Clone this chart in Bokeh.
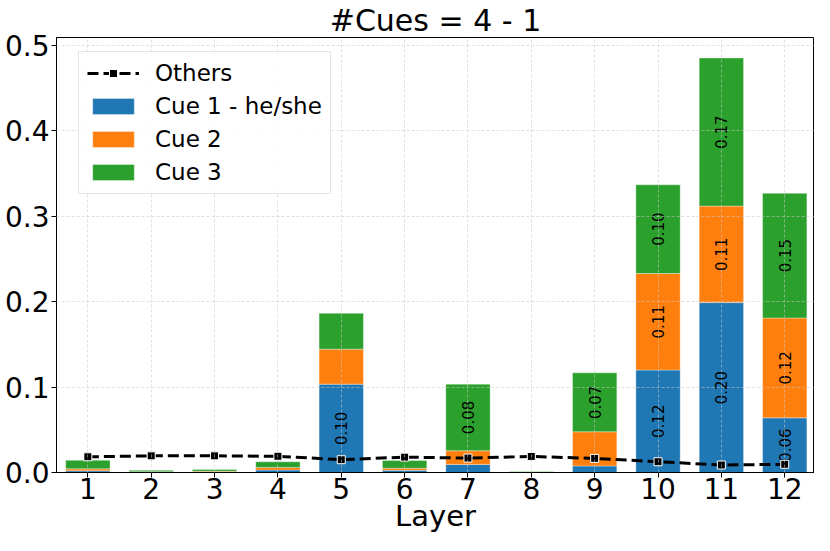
import numpy as np
from bokeh.plotting import figure
from bokeh.models import (ColumnDataSource, Range1d, FixedTicker, NumeralTickFormatter,
                          Legend, LegendItem)
from bokeh.core.properties import value
from bokeh.embed import file_html
from bokeh.resources import INLINE

# ---- data ----
layers = [1, 2, 3, 4, 5, 6, 7, 8, 9, 10, 11, 12]
cue1 = [0.002, 0.0005, 0.0005, 0.003, 0.1035, 0.0025, 0.0095, 0.0003, 0.0077, 0.120, 0.199, 0.064]
cue2 = [0.0023, 0.0005, 0.001, 0.003, 0.041, 0.0025, 0.016, 0.0003, 0.040, 0.113, 0.113, 0.117]
cue3 = [0.010, 0.0015, 0.002, 0.0065, 0.042, 0.009, 0.078, 0.0006, 0.069, 0.104, 0.1735, 0.146]
others = [0.0184, 0.0195, 0.0195, 0.019, 0.015, 0.018, 0.0169, 0.0188, 0.0165, 0.0126, 0.0088, 0.0096]
series_names = ["Cue 1 - he/she", "Cue 2", "Cue 3"]
y_ticks = [0.0, 0.1, 0.2, 0.3, 0.4, 0.5]
title_text = "#Cues = 4 - 1"
label_threshold = 0.05

colors = ["#1f77b4", "#ff7f0e", "#2ca02c"]
FONT = "DejaVu Sans"

src = ColumnDataSource(dict(layer=layers, cue1=cue1, cue2=cue2, cue3=cue3, others=others))

p = figure(width=814, height=535, output_backend="svg", toolbar_location=None,
           x_range=Range1d(0.505, 12.47), y_range=Range1d(0, 0.5095),
           min_border_left=56, min_border_right=0, min_border_top=0, min_border_bottom=0)
p.background_fill_color = "white"
p.border_fill_color = "white"
p.outline_line_color = "black"
p.outline_line_alpha = 1
p.outline_line_width = 1

bars = p.vbar_stack(["cue1", "cue2", "cue3"], x="layer", width=0.7, source=src,
                    color=colors, line_color="white", line_alpha=0.35, line_width=1)

# bar value labels
stack = np.vstack([cue1, cue2, cue3])
bottoms = np.vstack([np.zeros(len(layers)), np.cumsum(stack, axis=0)[:-1]])
mids = bottoms + stack / 2
lx, ly, lt = [], [], []
for i in range(stack.shape[0]):
    for j in range(stack.shape[1]):
        if stack[i, j] >= label_threshold:
            lx.append(layers[j]); ly.append(mids[i, j]); lt.append(f"{stack[i, j]:.2f}")
p.text(x=lx, y=ly, text=lt, angle=np.pi / 2, text_align="center", text_baseline="middle",
       text_font=value(FONT), text_font_size="15px", text_color="black")

line_r = p.line("layer", "others", source=src, line_color="black", line_width=3,
                line_dash="11 5")
pts_r = p.scatter("layer", "others", source=src, marker="square", size=8,
                  fill_color="black", line_color="white", line_width=1)

# grid
p.grid.grid_line_color = "#c8c8c8"
p.grid.grid_line_alpha = 0.55
p.grid.grid_line_dash = "3 2"
p.grid.grid_line_width = 1
p.grid.level = "annotation"

# axes
p.xaxis.ticker = FixedTicker(ticks=layers)
p.yaxis.ticker = FixedTicker(ticks=y_ticks)
p.yaxis.formatter = NumeralTickFormatter(format="0.0")
for ax in (p.xaxis[0], p.yaxis[0]):
    ax.major_label_text_font = FONT
    ax.major_label_text_font_size = "28px"
    ax.major_label_text_color = "black"
    ax.axis_line_color = "black"
    ax.major_tick_line_color = "black"
    ax.major_tick_out = 5
    ax.major_tick_in = 0
    ax.minor_tick_line_color = None
    ax.major_label_standoff = 2
p.xaxis.major_label_standoff = 0
p.xaxis.axis_label = "Layer"
p.xaxis.axis_label_text_font = FONT
p.xaxis.axis_label_text_font_size = "29px"
p.xaxis.axis_label_text_font_style = "normal"
p.xaxis.axis_label_text_color = "black"
p.xaxis.axis_label_standoff = -3

# title
p.title.text = title_text
p.title.align = "center"
p.title.text_font = FONT
p.title.text_font_size = "30px"
p.title.text_font_style = "normal"
p.title.text_color = "black"
p.title.standoff = 0

legend = Legend(items=[
    LegendItem(label="Others", renderers=[line_r, pts_r]),
    LegendItem(label=series_names[0], renderers=[bars[0]]),
    LegendItem(label=series_names[1], renderers=[bars[1]]),
    LegendItem(label=series_names[2], renderers=[bars[2]]),
], location=(22, 278))
legend.label_text_font = FONT
legend.label_text_font_size = "23px"
legend.label_text_color = "black"
legend.glyph_width = 52
legend.glyph_height = 20
legend.label_standoff = 16
legend.spacing = 7
legend.padding = 8
legend.margin = 0
legend.border_line_color = "#cccccc"
legend.border_line_width = 1
legend.background_fill_alpha = 0.85
p.add_layout(legend)

open("out.html", "w").write(file_html(p, INLINE))
